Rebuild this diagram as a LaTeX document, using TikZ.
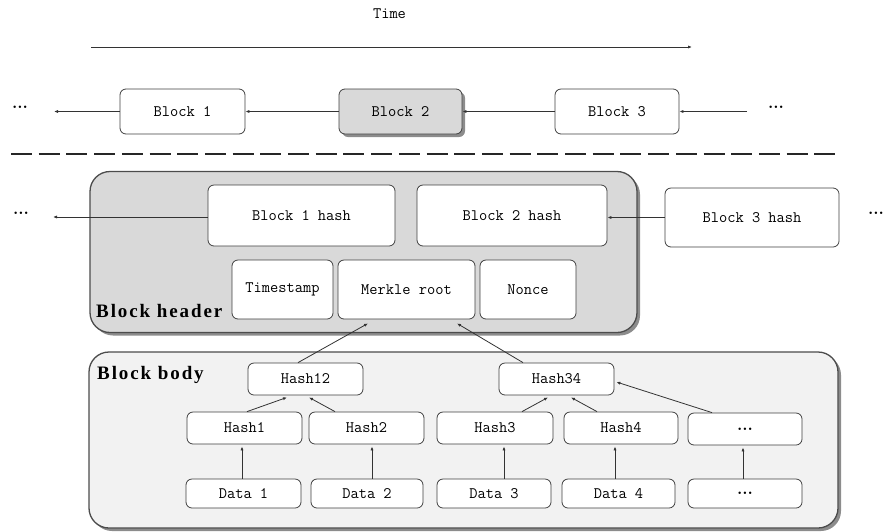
\documentclass[tikz,border=0pt]{standalone}
\usepackage{fontspec}
\newfontfamily\lblfont[LetterSpace=10]{Liberation Serif}
\usetikzlibrary{shadows,arrows.meta,calc}
\begin{document}
\begin{tikzpicture}[x=1pt,y=-1pt,
  box/.style={draw=black!75, line width=0.8pt, rounded corners=6pt, fill=white,
    font=\ttfamily\fontsize{16}{18}\selectfont, inner sep=0pt},
  arr/.style={draw=black!80, line width=0.8pt, -{Latex[length=4pt,width=3.2pt]}},
  shad/.style={drop shadow={shadow xshift=3pt, shadow yshift=-3pt, fill=black, opacity=0.45}},
  cont/.style={draw=black!70, line width=1.3pt, rounded corners=20pt, inner sep=0pt, shad},
  lbl/.style={font=\lblfont\bfseries\fontsize{19}{21}\selectfont, anchor=base west, inner sep=0pt},
  dots/.style={font=\rmfamily\bfseries\fontsize{17}{19}\selectfont, inner sep=0pt},
  ttl/.style={font=\ttfamily\fontsize{16}{18}\selectfont, inner sep=0pt}]
\useasboundingbox (0,0) rectangle (888,531);

% containers
\node[cont, fill=black!15, minimum width=547pt, minimum height=161pt] (hdr) at (363.5,252) {};
\node[cont, fill=black!5, minimum width=749pt, minimum height=176pt] (body) at (463.5,440) {};

% time
\node[ttl] (time) at (389.5,14) {Time};
\coordinate (t0) at (91,47);
\coordinate (t1) at (692,47);
\draw[arr] (t0) -- (t1);

% chain row
\node[box, minimum width=125pt, minimum height=45pt] (b1) at (182.5,111.5) {Block 1};
\node[box, fill=black!15, shad, minimum width=123pt, minimum height=45pt] (b2) at (400.5,111.5) {Block 2};
\node[box, minimum width=124pt, minimum height=45pt] (b3) at (617,111.5) {Block 3};
\node[dots] (ld1) at (20,107) {...};
\node[dots] (rd1) at (776,107) {...};
\coordinate (le1) at (54,111.5);
\coordinate (rs1) at (747,111.5);
\draw[arr] (b1) -- (le1);
\draw[arr] (b2) -- (b1);
\draw[arr] (b3) -- (b2);
\draw[arr] (rs1) -- (b3);

% dashed separator
\coordinate (d0) at (11,154);
\coordinate (d1e) at (840,154);
\draw[line width=2.6pt, black!85, dash pattern=on 21pt off 6.7pt] (d0) -- (d1e);

% header
\node[box, minimum width=187pt, minimum height=61pt] (b1h) at (301.5,215.5) {Block 1 hash};
\node[box, minimum width=190pt, minimum height=61pt] (b2h) at (512,215.5) {Block 2 hash};
\node[box, minimum width=174pt, minimum height=59pt] (b3h) at (752,217.5) {Block 3 hash};
\node[box, minimum width=101pt, minimum height=59pt] (ts) at (282.5,289.5) {Timestamp};
\node[box, minimum width=137pt, minimum height=59pt] (mr) at (406.5,289.5) {Merkle root};
\node[box, minimum width=96pt, minimum height=59pt] (nc) at (528,289.5) {Nonce};
\node[dots] (ld2) at (21,213) {...};
\node[dots] (rd2) at (876,213) {...};
\coordinate (le2) at (53,217);
\draw[arr] (b1h.west |- le2) -- (le2);
\draw[arr] (b3h.west) -- (b3h.west -| b2h.east);
\node[lbl] (hl) at (96,317) {Block header};

% body
\node[lbl] (bl) at (97,379) {Block body};
\node[box, minimum width=115pt, minimum height=32pt] (h12) at (305.5,379) {Hash12};
\node[box, minimum width=115pt, minimum height=32pt] (h34) at (556.5,379) {Hash34};
\node[box, minimum width=115pt, minimum height=32pt] (h1) at (244.5,428) {Hash1};
\node[box, minimum width=115pt, minimum height=32pt] (h2) at (366.5,428) {Hash2};
\node[box, minimum width=116pt, minimum height=32pt] (h3) at (495,428) {Hash3};
\node[box, minimum width=114pt, minimum height=32pt] (h4) at (621,428) {Hash4};
\node[box, minimum width=114pt, minimum height=32pt] (hd) at (745,429) {\rmfamily\bfseries\fontsize{17}{19}\selectfont ...};
\node[box, minimum width=115pt, minimum height=29pt] (da1) at (243.5,493.5) {Data 1};
\node[box, minimum width=112pt, minimum height=29pt] (da2) at (367,493.5) {Data 2};
\node[box, minimum width=114pt, minimum height=29pt] (da3) at (494,493.5) {Data 3};
\node[box, minimum width=113pt, minimum height=29pt] (da4) at (618.5,493.5) {Data 4};
\node[box, minimum width=114pt, minimum height=29pt] (dd) at (745,493.5) {\rmfamily\bfseries\fontsize{17}{19}\selectfont ...};

% merkle arrows
\draw[arr] ($(h12.north)+(-7.5,0)$) -- ($(mr.south)+(-38.5,4)$);
\draw[arr] ($(h34.north)+(-33.5,0)$) -- ($(mr.south)+(50.5,4)$);
\draw[arr] ($(h1.north)+(2.5,0)$) -- ($(h12.south)+(-18.5,2)$);
\draw[arr] ($(h2.north)+(-31.5,0)$) -- ($(h12.south)+(3.5,2)$);
\draw[arr] ($(h3.north)+(27,0)$) -- ($(h34.south)+(-8.5,2)$);
\draw[arr] ($(h4.north)+(-24,0)$) -- ($(h34.south)+(14.5,2)$);
\draw[arr] ($(hd.north)+(-33,0)$) -- ($(h34.east)+(2,3)$);

% data to hash
\draw[arr] ($(da1.north)+(-1.5,0)$) -- ($(da1.north |- h1.south)+(-1.5,2)$);
\draw[arr] ($(da2.north)+(5,0)$) -- ($(da2.north |- h2.south)+(5,2)$);
\draw[arr] ($(da3.north)+(10,0)$) -- ($(da3.north |- h3.south)+(10,2)$);
\draw[arr] ($(da4.north)+(-3.5,0)$) -- ($(da4.north |- h4.south)+(-3.5,2)$);
\draw[arr] ($(dd.north)+(-2,0)$) -- ($(dd.north |- hd.south)+(-2,2)$);
\end{tikzpicture}
\end{document}
